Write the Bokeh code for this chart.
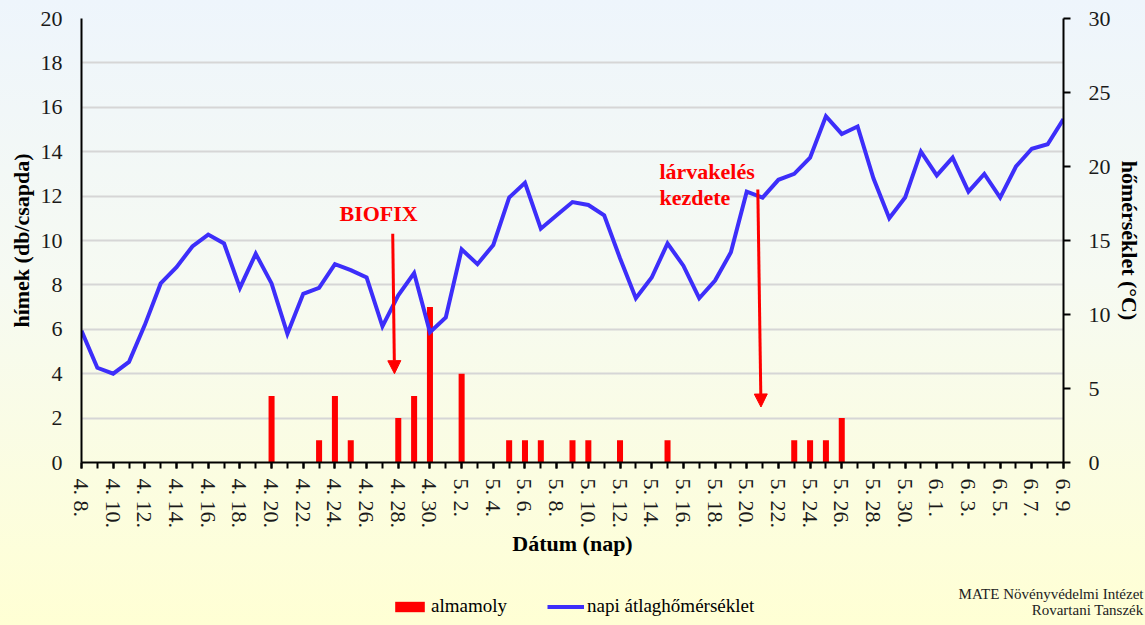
from bokeh.plotting import figure
from bokeh.layouts import column
from bokeh.models import (Range1d, LinearAxis, FixedTicker, Arrow, NormalHead,
                          Label, Legend, LegendItem, ColumnDataSource)
from bokeh.embed import file_html
from bokeh.resources import INLINE

# ---------------- data ----------------
dates = ["4. 8.", "4. 9.", "4. 10.", "4. 11.", "4. 12.", "4. 13.", "4. 14.", "4. 15.",
         "4. 16.", "4. 17.", "4. 18.", "4. 19.", "4. 20.", "4. 21.", "4. 22.", "4. 23.",
         "4. 24.", "4. 25.", "4. 26.", "4. 27.", "4. 28.", "4. 29.", "4. 30.",
         "5. 1.", "5. 2.", "5. 3.", "5. 4.", "5. 5.", "5. 6.", "5. 7.", "5. 8.",
         "5. 9.", "5. 10.", "5. 11.", "5. 12.", "5. 13.", "5. 14.", "5. 15.", "5. 16.",
         "5. 17.", "5. 18.", "5. 19.", "5. 20.", "5. 21.", "5. 22.", "5. 23.", "5. 24.",
         "5. 25.", "5. 26.", "5. 27.", "5. 28.", "5. 29.", "5. 30.", "5. 31.",
         "6. 1.", "6. 2.", "6. 3.", "6. 4.", "6. 5.", "6. 6.", "6. 7.", "6. 8.", "6. 9."]

almamoly = [0, 0, 0, 0, 0, 0, 0, 0, 0, 0, 0, 0, 3, 0, 0, 1, 3, 1, 0, 0, 2, 3, 7,
            0, 4, 0, 0, 1, 1, 1, 0, 1, 1, 0, 1, 0, 0, 1, 0, 0, 0, 0, 0, 0, 0, 1, 1,
            1, 2, 0, 0, 0, 0, 0, 0, 0, 0, 0, 0, 0, 0, 0, 0]

temperature = [8.9, 6.4, 6.0, 6.8, 9.3, 12.1, 13.2, 14.6, 15.4, 14.8, 11.8, 14.1,
               12.1, 8.7, 11.4, 11.8, 13.4, 13.0, 12.5, 9.2, 11.3, 12.8, 8.8,
               9.8, 14.4, 13.4, 14.7, 17.9, 18.9, 15.8, 16.7, 17.6, 17.4, 16.7,
               13.8, 11.1, 12.5, 14.8, 13.3, 11.1, 12.3, 14.2, 18.3, 17.9, 19.1,
               19.5, 20.6, 23.4, 22.2, 22.7, 19.2, 16.5, 17.9, 21.0, 19.4, 20.6,
               18.3, 19.5, 17.9, 20.0, 21.2, 21.5, 23.2]

series_names = ["almamoly", "napi átlaghőmérséklet"]
credits = ["MATE Növényvédelmi Intézet", "Rovartani Tanszék"]

# annotation anchors (day index, left-axis value)
biofix_arrow = (19.65, 10.3, 19.76, 4.0)
larva_arrow = (42.7, 12.3, 42.9, 2.5)
biofix_text = (16.29, 11.22)
larva_text = (36.49, 13.1, 11.94)

FONT = "Liberation Serif"
RED = "#ff0000"
BLUE = "#3d2efa"

day = list(range(len(dates)))
src = ColumnDataSource(dict(day=day, moth=almamoly, temp=temperature))

p = figure(frame_width=982, frame_height=444,
           min_border_left=81, min_border_right=82,
           min_border_top=18, min_border_bottom=110,
           output_backend="svg", toolbar_location=None,
           x_range=Range1d(0, len(dates) - 1), y_range=Range1d(0, 20))
p.border_fill_color = None
p.background_fill_color = None
p.outline_line_color = None

p.extra_y_ranges = {"temp": Range1d(0, 30)}

bars = p.vbar(x="day", top="moth", width=0.38, source=src,
              fill_color=RED, line_color=None)
line = p.line(x="day", y="temp", source=src, y_range_name="temp",
              line_color=BLUE, line_width=4, line_join="miter")

# ---------------- axes ----------------
even = [i for i in day if i % 2 == 0]
xa = p.xaxis[0]
xa.ticker = FixedTicker(ticks=even, minor_ticks=day)
xa.major_label_overrides = {i: dates[i] for i in even}
xa.major_label_orientation = "vertical"
xa.axis_label = "Dátum (nap)"
xa.major_tick_out = 6
xa.major_tick_in = 0
xa.minor_tick_out = 6
xa.minor_tick_in = 0
xa.major_label_standoff = 10
xa.axis_label_standoff = 0

ya = p.yaxis[0]
ya.ticker = FixedTicker(ticks=list(range(0, 21, 2)))
ya.axis_label = "hímek (db/csapda)"
ya.major_tick_out = 0
ya.major_tick_in = 0
ya.minor_tick_line_color = None
ya.major_label_standoff = 19
ya.axis_label_standoff = 4

yr = LinearAxis(y_range_name="temp", ticker=FixedTicker(ticks=list(range(0, 31, 5))),
                axis_label="hőmérséklet (°C)")
yr.major_tick_out = 7
yr.major_tick_in = 0
yr.minor_tick_line_color = None
yr.major_label_standoff = 18
yr.axis_label_standoff = 3
p.add_layout(yr, "right")

for ax in (xa, ya, yr):
    ax.axis_line_color = "black"
    ax.axis_line_width = 2
    ax.major_tick_line_color = "black"
    ax.major_tick_line_width = 2
    ax.minor_tick_line_width = 2
    ax.major_label_text_font = FONT
    ax.major_label_text_font_size = "22px"
    ax.major_label_text_color = "#1a1a1a"
    ax.axis_label_text_font = FONT
    ax.axis_label_text_font_size = "22px"
    ax.axis_label_text_font_style = "bold"
    ax.axis_label_text_color = "black"

p.xgrid.visible = False
p.ygrid.ticker = FixedTicker(ticks=list(range(0, 21, 2)))
p.ygrid.grid_line_color = "#d6d6d6"
p.ygrid.grid_line_width = 2

# ---------------- annotations ----------------
for (xs, ys, xe, ye) in (biofix_arrow, larva_arrow):
    p.add_layout(Arrow(end=NormalHead(size=13, fill_color=RED, line_color=RED),
                       x_start=xs, y_start=ys, x_end=xe, y_end=ye,
                       line_color=RED, line_width=3))

lab_kw = dict(text_font=FONT, text_font_size="22px", text_font_style="bold",
              text_color=RED, text_baseline="alphabetic")
p.add_layout(Label(x=biofix_text[0], y=biofix_text[1], text="BIOFIX", **lab_kw))
p.add_layout(Label(x=larva_text[0], y=larva_text[1], text="lárvakelés", **lab_kw))
p.add_layout(Label(x=larva_text[0], y=larva_text[2], text="kezdete", **lab_kw))

# ---------------- footer: legend + credits ----------------
# the same series feed the legend; the footer's ranges keep them out of view
foot = figure(width=1145, height=53, min_border=0, output_backend="svg",
              toolbar_location=None, x_axis_type=None, y_axis_type=None,
              x_range=Range1d(1000, 1001), y_range=Range1d(1000, 1001))
foot.border_fill_color = None
foot.background_fill_color = None
foot.outline_line_color = None
foot.grid.visible = False

frame_left, credit_right = 81, 982
if "frame_align" in foot.properties():
    foot.frame_align = False
    p.frame_align = False
    frame_left, credit_right = 0, 1143

leg_bar = foot.vbar(x="day", top="moth", width=0.38, source=src,
                    fill_color=RED, line_color=None)
leg_line = foot.line(x="day", y="temp", source=src, line_color=BLUE, line_width=4)

legend = Legend(items=[LegendItem(label=series_names[0], renderers=[leg_bar]),
                       LegendItem(label=series_names[1], renderers=[leg_line])],
                location=(391 - frame_left, 8), orientation="horizontal",
                glyph_width=37, glyph_height=13, label_standoff=3, spacing=40,
                padding=0, margin=0, border_line_color=None,
                background_fill_alpha=0,
                label_text_font=FONT, label_text_font_size="19px",
                label_text_color="black")
foot.add_layout(legend, "center")

foot.add_layout(Label(x=credit_right, y=32, x_units="screen", y_units="screen",
                      text=credits[0], text_font=FONT, text_font_size="15px",
                      text_align="right", text_color="#222222",
                      text_baseline="alphabetic"))
foot.add_layout(Label(x=credit_right, y=16, x_units="screen", y_units="screen",
                      text=credits[1], text_font=FONT, text_font_size="15px",
                      text_align="right", text_color="#222222",
                      text_baseline="alphabetic"))

page = column(p, foot, spacing=0,
              styles={"background": "linear-gradient(to bottom, #eef5fc 0%, #f6faf2 45%, #ffffd4 100%)"})

open("out.html", "w").write(file_html(page, INLINE))
